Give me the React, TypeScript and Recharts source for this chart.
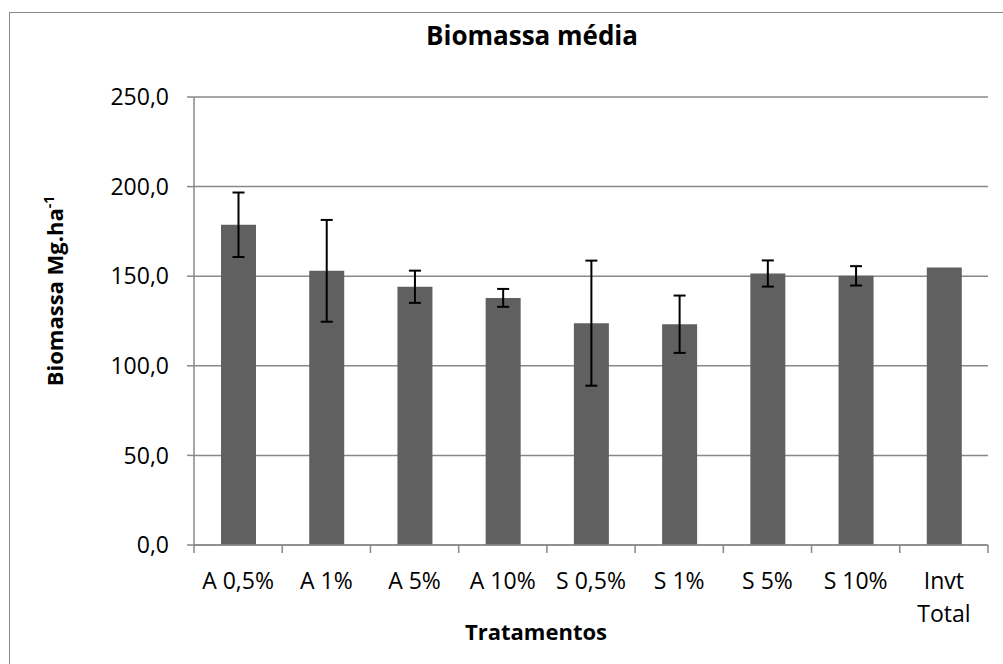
import React from 'react';
import {
  BarChart,
  Bar,
  XAxis,
  YAxis,
  CartesianGrid,
  ErrorBar,
  Label,
  Customized,
} from 'recharts';

// Tratamentos (categorias do eixo X)
const categories = ['A 0,5%', 'A 1%', 'A 5%', 'A 10%', 'S 0,5%', 'S 1%', 'S 5%', 'S 10%', 'Invt Total'];
// Biomassa média (Mg.ha-1)
const biomass = [178.7, 153.0, 144.1, 137.9, 123.8, 123.2, 151.5, 150.2, 154.9];
// desvio (barras de erro), Invt Total sem erro
const biomassError = [18.0, 28.4, 9.0, 5.0, 34.9, 16.0, 7.3, 5.4, null];
const yTicks = [0, 50, 100, 150, 200, 250];

const FONT = '"Open Sans", sans-serif';
const GRAY = '#888888';

const data = categories.map((name, i) => ({
  name,
  biomassa: biomass[i],
  erro: biomassError[i],
}));

const fmt = (v: number) => v.toFixed(1).replace('.', ',');

// rótulo da categoria + marcas entre categorias (como no Excel)
function CategoryTick(props: any) {
  const { x, y, payload, index } = props;
  const half = payload.offset || 0;
  const label: string = payload.value;
  const lines = label.length > 8 ? label.split(' ') : [label];
  const isLast = index === categories.length - 1;
  return (
    <g>
      <line x1={x - half} x2={x - half} y1={y} y2={y + 8} stroke={GRAY} strokeWidth={1.5} />
      {isLast && <line x1={x + half} x2={x + half} y1={y} y2={y + 8} stroke={GRAY} strokeWidth={1.5} />}
      <text x={x} y={y} textAnchor="middle" fontFamily={FONT} fontSize={23} fill="#000">
        {lines.map((line, i) => (
          <tspan key={i} x={x} dy={i === 0 ? 44 : 33}>
            {line}
          </tspan>
        ))}
      </text>
    </g>
  );
}

function Title() {
  return (
    <text x={532} y={45} textAnchor="middle" fontFamily={FONT} fontSize={26} fontWeight="bold" fill="#000">
      Biomassa média
    </text>
  );
}

export default function App() {
  return (
    <div
      style={{
        position: 'absolute',
        left: 0,
        top: 0,
        width: 1003,
        height: 664,
        overflow: 'hidden',
        background: '#fff',
      }}
    >
      <div
        style={{
          position: 'absolute',
          left: 9,
          top: 12,
          width: 1100,
          height: 800,
          border: `1.5px solid ${GRAY}`,
        }}
      />
      <div style={{ position: 'absolute', left: 0, top: 0 }}>
        <BarChart
          width={1003}
          height={664}
          data={data}
          margin={{ top: 97, right: 15, left: 0, bottom: 0 }}
        >
          <CartesianGrid vertical={false} stroke={GRAY} strokeWidth={1.5} />
          <XAxis
            dataKey="name"
            height={119}
            axisLine={{ stroke: GRAY, strokeWidth: 1.5 }}
            tickLine={false}
            tickSize={0}
            tickMargin={0}
            interval={0}
            tick={<CategoryTick />}
          >
            <Label
              content={() => (
                <text x={536} y={640} textAnchor="middle" fontFamily={FONT} fontSize={22} fontWeight="bold" fill="#000">
                  Tratamentos
                </text>
              )}
            />
          </XAxis>
          <YAxis
            width={194}
            domain={[0, 250]}
            ticks={yTicks}
            tickFormatter={fmt}
            tickSize={7}
            tickMargin={18}
            stroke={GRAY}
            strokeWidth={1.5}
            tick={{ fontFamily: FONT, fontSize: 23, fill: '#000' }}
          >
            <Label
              content={() => (
                <text
                  x={63}
                  y={291}
                  transform="rotate(-90, 63, 291)"
                  textAnchor="middle"
                  fontFamily={FONT}
                  fontSize={22}
                  fontWeight="bold"
                  fill="#000"
                >
                  Biomassa Mg.ha
                  <tspan dy={-9} fontSize={14}>-1</tspan>
                </text>
              )}
            />
          </YAxis>
          <Bar dataKey="biomassa" fill="#606060" barSize={35} isAnimationActive={false}>
            <ErrorBar dataKey="erro" width={6} stroke="#000" strokeWidth={2} direction="y" isAnimationActive={false} />
          </Bar>
          <Customized component={Title} />
        </BarChart>
      </div>
    </div>
  );
}
